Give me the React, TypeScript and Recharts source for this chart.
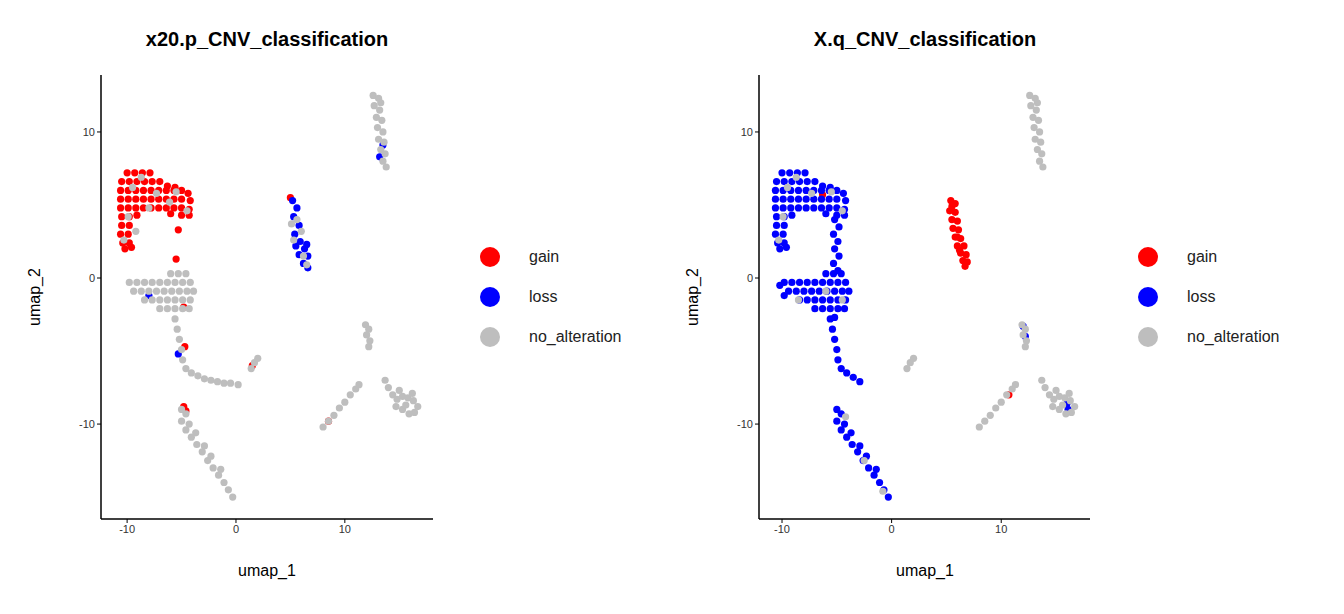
import React from 'react';
import { ScatterChart, Scatter, XAxis, YAxis } from 'recharts';

type P = [number, number][];

const categories = ['gain', 'loss', 'no_alteration'];
const colors = ['#FF0000', '#0000FF', '#BEBEBE'];
const xTicks = [-10, 0, 10];
const yTicks = [-10, 0, 10];

const blob: P = [
  [-10,7.2],[-9.3,7.2],[-8.6,7.2],[-7.9,7.2],
  [-10.5,6.6],[-9.8,6.6],[-9.1,6.6],[-8.4,6.6],[-7.7,6.6],[-7,6.6],[-6.3,6.3],[-5.6,6.2],
  [-10.6,6],[-9.9,6],[-9.2,6],[-8.5,6],[-7.8,6],[-7.1,6],[-6.4,6],[-5.7,6],[-5,6],[-4.4,5.8],
  [-10.6,5.4],[-9.9,5.4],[-9.2,5.4],[-8.5,5.4],[-7.8,5.4],[-7.1,5.4],[-6.4,5.4],[-5.7,5.4],[-5,5.4],[-4.2,5.3],
  [-10.6,4.8],[-9.9,4.8],[-9.2,4.8],[-8.5,4.8],[-7.8,4.8],[-7.1,4.8],[-6.4,4.8],[-5.7,4.8],[-5,4.8],[-4.3,4.7],
  [-10.5,4.2],[-9.8,4.2],[-9.1,4.3],[-6,4.4],[-5,4.3],[-4.3,4.3],
  [-10.5,3.6],[-9.8,3.6],[-10.6,3],[-9.9,3],[-10.4,2.4],[-9.8,2.4],[-10.2,2],[-9.6,2.1],
];

const leftGain: P = [...blob,
  [-5.3,3.3],[-5.5,1.3],[-4.8,-2],[-4.7,-4.7],[-4.8,-8.8],[-4.6,-9.1],[1.5,-6],[8.5,-9.8],[5,5.5],
];
const leftLoss: P = [
  [5.2,5.3],[5.6,4.8],[5.3,4.2],[5.8,3.6],[5.4,3],[5.9,2.5],[6.3,2],[6.6,1.5],[6.2,1],[6.6,0.7],[5.8,1.6],[5.5,2.2],[6.5,2.3],
  [13.2,8.3],[13.5,9.1],[-8,-1.2],[-5.3,-5.2],
];
const midCluster: P = [
  [-9.8,-0.3],[-9.1,-0.3],[-8.4,-0.3],[-7.7,-0.3],[-7,-0.3],[-6.3,-0.3],[-5.6,-0.3],[-4.9,-0.3],[-4.2,-0.3],
  [-9.4,-0.9],[-8.7,-0.9],[-8,-0.9],[-7.3,-0.9],[-6.6,-0.9],[-5.9,-0.9],[-5.2,-0.9],[-4.5,-0.9],[-3.9,-0.9],
  [-8.4,-1.5],[-7.7,-1.5],[-7,-1.5],[-6.3,-1.5],[-5.6,-1.5],[-4.9,-1.5],[-4.2,-1.5],
  [-7,-2.1],[-6.3,-2.1],[-5.6,-2.1],[-4.9,-2.1],[-4.3,-2.1],[-6,0.3],[-5.3,0.3],[-4.6,0.3],
];
const tail2: P = [
  [-5,-9],[-4.6,-9.3],[-5,-9.8],[-4.6,-10.4],[-4.1,-10.9],[-3.6,-11.4],[-3.1,-11.9],[-2.6,-12.5],[-2.1,-13],
  [-1.6,-13.5],[-1.1,-14],[-0.7,-14.5],[-0.3,-15],[-4.3,-10],[-3.7,-10.6],[-2.9,-11.5],[-2.3,-12.2],[-1.4,-13.1],
];
const rightSide: P = [
  [12.6,12.5],[13.1,12.3],[12.7,11.8],[13.2,11.5],[12.9,11],[13.4,10.8],[13,10.3],[13.5,10],[13.1,9.5],[13.6,9.3],
  [13.3,8.8],[13.7,8.5],[13.5,8],[13.8,7.6],[13.3,12],
  [11.9,-3.2],[12.2,-3.5],[12,-3.9],[12.3,-4.3],[12.2,-4.7],
  [8,-10.2],[8.5,-9.8],[9,-9.4],[9.5,-8.9],[10,-8.5],[10.5,-8],[11,-7.6],[11.3,-7.3],
  [13.7,-7],[14,-7.5],[14.4,-8],[14.8,-8.3],[15.3,-8.1],[15.8,-8.2],[16.3,-8.4],[16.7,-8.8],[16.4,-9.2],
  [15.9,-9.3],[15.3,-9],[14.7,-8.8],[15.6,-8.7],[16.2,-7.9],[15,-7.7],
  [1.4,-6.2],[1.7,-5.8],[2,-5.5],
];
const leftNone: P = [
  [-8.7,6.9],[-9.5,6.2],[-7.3,5.8],[-6.1,5.2],[-9.9,4.2],[-9.2,3.2],[-10.3,2.6],[-5.5,5.9],[-8,4.8],[-4.5,4.6],
  ...midCluster,
  [-5.6,-2.8],[-5.4,-3.5],[-5.2,-4.2],[-5,-4.9],[-4.9,-5.6],[-4.6,-6.2],[-4.1,-6.5],[-3.5,-6.7],[-2.9,-6.9],
  [-2.3,-7],[-1.7,-7.1],[-1.1,-7.2],[-0.5,-7.2],[0.2,-7.3],
  ...tail2,
  [5.6,4],[6.2,1.5],[6.5,0.9],[5.3,2.6],[6,3.2],[5.1,3.7],
  ...rightSide,
];

const rightGain: P = [
  [5.4,5.3],[5.8,5.1],[5.3,4.6],[5.8,4.5],[5.5,4],[6,3.9],[5.6,3.4],[6.1,3.3],[5.8,2.8],[6.3,2.7],[6,2.2],[6.6,2.2],
  [6.3,1.7],[6.8,1.6],[6.5,1.2],[6.9,1.1],[6.7,0.8],[5.5,4.9],[6.2,1.9],[6,2.8],[10.7,-8],[-6.3,5.7],
];
const rightLoss: P = [...blob,
  [-5.2,4],[-4.8,3.5],[-5.3,3],[-4.9,2.5],[-5.2,2],[-4.8,1.5],[-5.3,1],[-4.9,0.5],
  ...midCluster, [-10.2,-0.5],[-9.8,-1.2],[-5.2,-2.7],
  [-5.6,-2.8],[-5.4,-3.5],[-5.2,-4.2],[-5,-4.9],[-4.9,-5.6],[-4.6,-6.2],[-4.1,-6.5],[-3.5,-6.8],[-2.9,-7.1],
  ...tail2,
  [12,-3.3],[12.2,-4],[16,-8.6],[16.1,-9],
];
const rightNone: P = [
  [-8.7,6.9],[-9.5,6.2],[-7.3,5.8],[-9.9,4.2],[-10.3,2.6],[-5.5,5.9],[-4.5,4.6],[-8.5,-1.5],[-6,-0.9],[-4.5,-1.5],
  [-4.2,-9.5],[-2.5,-12.5],[-0.8,-14.6],
  ...rightSide,
];

const toObj = (p: P) => p.map(([x, y]) => ({ x, y }));

const dot = (color: string) => (props: any) => <circle cx={props.cx} cy={props.cy} r={3.6} fill={color} />;

const font = '"Liberation Sans", Arial, sans-serif';

function Panel({ left, title, data, ml, mr, xMin }: any) {
  return (
    <div style={{ position: 'absolute', left, top: 0, width: 672, height: 614 }}>
      <div style={{ position: 'absolute', left: 0, right: 0, top: 28, textAlign: 'left', font: `bold 20px ${font}` }}>
        <span style={{ position: 'absolute', left: ml + 40 + 166, transform: 'translateX(-50%)', whiteSpace: 'nowrap' }}>{title}</span>
      </div>
      <ScatterChart width={672} height={614} margin={{ top: 75, right: mr, bottom: 65, left: ml }}>
        <XAxis type="number" dataKey="x" domain={[xMin, 18.1]} ticks={xTicks} allowDataOverflow height={30}
          axisLine={{ stroke: '#000', strokeWidth: 1.5 }} tickLine={{ stroke: '#000' }} tickSize={4}
          tick={{ fill: '#333', fontSize: 11, fontFamily: font }} />
        <YAxis type="number" dataKey="y" domain={[-16.5, 13.9]} ticks={yTicks} allowDataOverflow width={40}
          axisLine={{ stroke: '#000', strokeWidth: 1.5 }} tickLine={{ stroke: '#000' }} tickSize={4}
          tick={{ fill: '#333', fontSize: 11, fontFamily: font }} />
        {data.map((d: P, i: number) => (
          <Scatter key={i} data={toObj(d)} shape={dot(colors[i])} isAnimationActive={false} />
        ))}
      </ScatterChart>
      <div style={{ position: 'absolute', left: ml + 40 + 166, top: 562, transform: 'translateX(-50%)', font: `16px ${font}` }}>umap_1</div>
      <div style={{ position: 'absolute', left: ml + 40 - 66, top: 297, transform: 'translate(-50%,-50%) rotate(-90deg)', font: `16px ${font}` }}>umap_2</div>
      {categories.map((c, i) => (
        <div key={c} style={{ position: 'absolute', left: ml + 40 + 332 + 47, top: 247 + i * 40, display: 'flex', alignItems: 'center', font: `16px ${font}` }}>
          <span style={{ width: 20, height: 20, borderRadius: 10, background: colors[i], display: 'inline-block' }} />
          <span style={{ marginLeft: 29, color: '#222' }}>{c}</span>
        </div>
      ))}
    </div>
  );
}

export default function App() {
  return (
    <div style={{ position: 'absolute', left: 0, top: 0, width: 1344, height: 614, background: '#fff' }}>
      <Panel left={0} title="x20.p_CNV_classification" data={[leftGain, leftLoss, leftNone]} ml={61} mr={239} xMin={-12.4} />
      <Panel left={672} title="X.q_CNV_classification" data={[rightGain, rightLoss, rightNone]} ml={47} mr={254} xMin={-12.1} />
    </div>
  );
}
